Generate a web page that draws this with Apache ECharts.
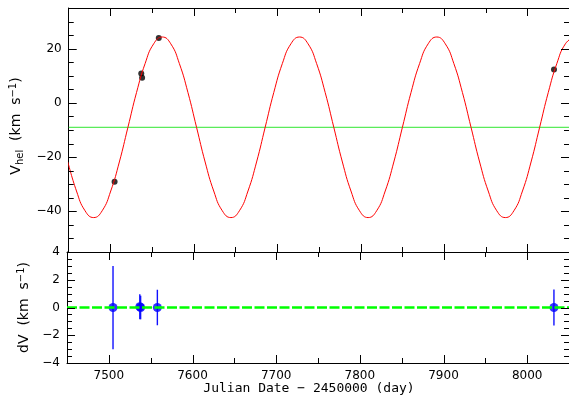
<!DOCTYPE html>
<html>
<head>
<meta charset="utf-8">
<script src="https://cdn.jsdelivr.net/npm/echarts@6/dist/echarts.min.js"></script>
<style>
html, body { margin: 0; padding: 0; background: #fff; }
#chart { width: 569px; height: 409px; }
</style>
</head>
<body>
<div id="chart"></div>
<script>
// orbit model curve
var modelDays = [7449.0, 7459.3, 7469.6, 7479.9, 7490.1, 7500.4, 7510.7, 7521.0, 7531.3,
    7541.6, 7551.9, 7562.2, 7572.4, 7582.7, 7593.0, 7603.3, 7613.6, 7623.9, 7634.2,
    7644.5, 7654.7, 7665.0, 7675.3, 7685.6, 7695.9, 7706.2, 7716.5, 7726.8, 7737.0,
    7747.3, 7757.6, 7767.9, 7778.2, 7788.5, 7798.8, 7809.1, 7819.3, 7829.6, 7839.9,
    7850.2, 7860.5, 7870.8, 7881.1, 7891.4, 7901.6, 7911.9, 7922.2, 7932.5, 7942.8,
    7953.1, 7963.4, 7973.7, 7983.9, 7994.2, 8004.5, 8014.8, 8025.1, 8035.4, 8045.7, 8055.9];
var modelVel = [-21.8, -32.5, -39.8, -42.3, -39.8, -32.5, -21.8, -9, 3.8,
    14.5, 21.8, 24.3, 21.8, 14.5, 3.8, -9, -21.8, -32.5, -39.8,
    -42.3, -39.8, -32.5, -21.8, -9, 3.8, 14.5, 21.8, 24.3, 21.8,
    14.5, 3.8, -9, -21.8, -32.5, -39.8, -42.3, -39.8, -32.5, -21.8,
    -9, 3.8, 14.5, 21.8, 24.3, 21.8, 14.5, 3.8, -9, -21.8,
    -32.5, -39.8, -42.3, -39.8, -32.5, -21.8, -9, 3.8, 14.5, 21.8, 24.3];
var systemicVel = -9.0;

var obsDays = [7505, 7537, 7538, 7558, 8032];
var obsVel = [-29.1, 10.8, 9.3, 23.9, 12.3];

var residDays = [7505, 7537, 7538, 7558, 8032];
var residVal = [0.0, 0.05, 0.0, 0.0, 0.0];
var residErr = [3.0, 0.9, 0.85, 1.28, 1.3];

var xMajorTicks = [7500, 7600, 7700, 7800, 7900, 8000];
var xMinorTicks = [7550, 7650, 7750, 7850, 7950];
var vMajorTicks = [-40, -20, 0, 20];
var vMinorTicks = [-50, -45, -35, -30, -25, -15, -10, -5, 5, 10, 15, 25, 30];
var dvMajorTicks = [-4, -2, 0, 2, 4];
var dvMinorTicks = [-3.5, -3, -2.5, -1.5, -1, -0.5, 0.5, 1, 1.5, 2.5, 3, 3.5];

var X_MIN = 7450, X_MAX = 8050;
var V_MIN = -55, V_MAX = 35;
var DV_MIN = -4, DV_MAX = 4;
var labelFont = { color: "#000", fontFamily: "DejaVu Sans", fontSize: 12 };

function minusFmt(v) {
    return String(v).replace("-", "\u2212");
}

function frameAxis(grid, pos, min, max, labels) {
    var axis = {
        type: "value",
        gridIndex: grid,
        position: pos,
        min: min,
        max: max,
        axisLine: { show: true, onZero: false, lineStyle: { color: "#000", width: 1 } },
        splitLine: { show: false },
        axisTick: { show: false },
        axisLabel: { show: false },
    };
    if (labels) {
        axis.axisLabel = Object.assign({
            show: true,
            customValues: labels,
            formatter: minusFmt,
            margin: 7,
        }, labelFont);
    }
    return axis;
}

var yRich = {
    m: { fontFamily: "DejaVu Sans", fontSize: 14, color: "#000" },
    s: { fontFamily: "DejaVu Sans", fontSize: 10, color: "#000", padding: [8, 0, 0, 0] },
    u: { fontFamily: "DejaVu Sans", fontSize: 10, color: "#000", padding: [0, 0, 7, 0] },
};

var xAxes = [
    frameAxis(0, "bottom", X_MIN, X_MAX, null),
    frameAxis(0, "top", X_MIN, X_MAX, null),
    frameAxis(1, "bottom", X_MIN, X_MAX, xMajorTicks),
    frameAxis(1, "top", X_MIN, X_MAX, null),
];

var vAxis = frameAxis(0, "left", V_MIN, V_MAX, vMajorTicks);
vAxis.name = "{m|V}{s|hel}{m|  (km  s}{u|\u22121}{m|)}";
vAxis.nameLocation = "middle";
vAxis.nameRotate = 90;
vAxis.nameGap = 28;
vAxis.nameTextStyle = { rich: yRich, padding: [0, 0, 0, 8] };

var dvAxis = frameAxis(1, "left", DV_MIN, DV_MAX, dvMajorTicks);
dvAxis.name = "{m|dV  (km  s}{u|\u22121}{m|)}";
dvAxis.nameLocation = "middle";
dvAxis.nameRotate = 90;
dvAxis.nameGap = 28;
dvAxis.nameTextStyle = { rich: yRich };

var yAxes = [
    vAxis,
    frameAxis(0, "right", V_MIN, V_MAX, null),
    dvAxis,
    frameAxis(1, "right", DV_MIN, DV_MAX, null),
];

function errorBar(params, api) {
    var x = api.value(0);
    var top = api.coord([x, api.value(1) + api.value(2)]);
    var bottom = api.coord([x, api.value(1) - api.value(2)]);
    return {
        type: "line",
        shape: { x1: top[0], y1: top[1], x2: bottom[0], y2: bottom[1] },
        style: { stroke: "#1010ff", lineWidth: 1.4 },
    };
}

var titleText = {
    type: "text",
    x: 309,
    y: 389,
    style: {
        text: "Julian Date \u2212 2450000 (day)",
        fontFamily: "DejaVu Sans Mono",
        fontSize: 13,
        fill: "#000",
        align: "center",
        verticalAlign: "middle",
    },
};

var chart = echarts.init(document.getElementById("chart"), null, { renderer: "canvas" });

chart.setOption({
    animation: false,
    backgroundColor: "#fff",
    grid: [
        { left: 67, right: -5, top: 8, height: 244 },
        { left: 67, right: -5, top: 252, height: 111 },
    ],
    xAxis: xAxes,
    yAxis: yAxes,
    graphic: [titleText],
    series: [
        {
            type: "line",
            xAxisIndex: 0,
            yAxisIndex: 0,
            data: [[X_MIN, systemicVel], [X_MAX, systemicVel]],
            showSymbol: false,
            lineStyle: { color: "#2ee62e", width: 1 },
        },
        {
            type: "line",
            xAxisIndex: 0,
            yAxisIndex: 0,
            data: modelDays.map(function (d, i) { return [d, modelVel[i]]; }),
            smooth: true,
            showSymbol: false,
            lineStyle: { color: "#ff0000", width: 1 },
        },
        {
            type: "scatter",
            xAxisIndex: 0,
            yAxisIndex: 0,
            data: obsDays.map(function (d, i) { return [d, obsVel[i]]; }),
            symbolSize: 6,
            itemStyle: { color: "#000" },
        },
        {
            type: "line",
            xAxisIndex: 2,
            yAxisIndex: 2,
            data: [[X_MIN, 0], [X_MAX, 0]],
            showSymbol: false,
            lineStyle: { color: "#00ff00", width: 2.5, type: [10, 2.5] },
        },
        {
            type: "custom",
            xAxisIndex: 2,
            yAxisIndex: 2,
            renderItem: errorBar,
            data: residDays.map(function (d, i) { return [d, residVal[i], residErr[i]]; }),
        },
        {
            type: "scatter",
            xAxisIndex: 2,
            yAxisIndex: 2,
            data: residDays.map(function (d, i) { return [d, residVal[i]]; }),
            symbolSize: 9,
            itemStyle: { color: "#0000ff" },
        },
    ],
});

// inward tick marks on all four edges of each panel, placed with the axes' scales
function tickLine(a, b) {
    return {
        type: "line",
        z: 50,
        shape: { x1: a[0], y1: a[1], x2: b[0], y2: b[1] },
        style: { stroke: "#000", lineWidth: 1 },
    };
}

function panelTicks(idx, xTicks, yTicks, yMin, yMax, len) {
    var finder = { xAxisIndex: idx, yAxisIndex: idx };
    var out = [];
    xTicks.forEach(function (v) {
        var b = chart.convertToPixel(finder, [v, yMin]);
        var t = chart.convertToPixel(finder, [v, yMax]);
        var x = Math.round(b[0]) + 0.5;
        out.push(tickLine([x, b[1]], [x, b[1] - len]));
        out.push(tickLine([x, t[1]], [x, t[1] + len]));
    });
    yTicks.forEach(function (v) {
        var l = chart.convertToPixel(finder, [X_MIN, v]);
        var r = chart.convertToPixel(finder, [X_MAX, v]);
        var y = Math.round(l[1]) + 0.5;
        out.push(tickLine([l[0], y], [l[0] + len, y]));
        out.push(tickLine([r[0], y], [r[0] - len, y]));
    });
    return out;
}

var ticks = [].concat(
    panelTicks(0, xMajorTicks, vMajorTicks, V_MIN, V_MAX, 8),
    panelTicks(0, xMinorTicks, vMinorTicks, V_MIN, V_MAX, 5),
    panelTicks(2, xMajorTicks, dvMajorTicks, DV_MIN, DV_MAX, 8),
    panelTicks(2, xMinorTicks, dvMinorTicks, DV_MIN, DV_MAX, 5)
);

chart.setOption({ graphic: [titleText].concat(ticks) });
</script>
</body>
</html>
